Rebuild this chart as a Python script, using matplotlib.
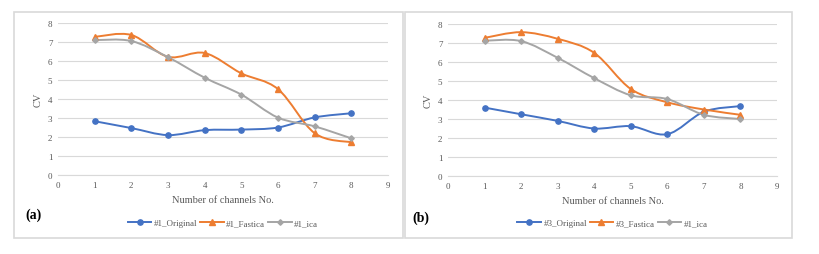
import numpy as np
import matplotlib
matplotlib.use('Agg')
import matplotlib.pyplot as plt
from matplotlib.path import Path
from matplotlib.patches import PathPatch, Rectangle

plt.rcParams['font.family'] = ['Liberation Serif', 'DejaVu Serif']

# Datos
canales = [1, 2, 3, 4, 5, 6, 7, 8]

a_original = [2.83, 2.47, 2.10, 2.36, 2.39, 2.50, 3.03, 3.25]
a_fastica = [7.27, 7.37, 6.22, 6.42, 5.35, 4.52, 2.20, 1.72]
a_ica = [7.10, 7.05, 6.20, 5.12, 4.23, 3.02, 2.56, 1.93]

b_original = [3.60, 3.25, 2.90, 2.50, 2.62, 2.20, 3.38, 3.68]
b_fastica = [7.27, 7.57, 7.22, 6.48, 4.58, 3.88, 3.50, 3.22]
b_ica = [7.12, 7.10, 6.22, 5.15, 4.25, 4.05, 3.22, 3.00]

colores = ['#4472C4', '#ED7D31', '#A5A5A5']
marcadores = ['o', '^', 'D']
tamanos = [3.8, 4.2, 2.8]


def curva_suave(ax, x, y, color):
    # linea suavizada estilo Excel (Bezier tipo Catmull-Rom)
    x = np.asarray(x, float)
    y = np.asarray(y, float)
    n = len(x)
    verts = [(x[0], y[0])]
    codes = [Path.MOVETO]
    t = 1 / 6
    for i in range(n - 1):
        x0, y0 = (x[i - 1], y[i - 1]) if i > 0 else (x[i], y[i])
        x3, y3 = (x[i + 2], y[i + 2]) if i + 2 < n else (x[i + 1], y[i + 1])
        c1 = (x[i] + (x[i + 1] - x0) * t, y[i] + (y[i + 1] - y0) * t)
        c2 = (x[i + 1] - (x3 - x[i]) * t, y[i + 1] - (y3 - y[i]) * t)
        verts += [c1, c2, (x[i + 1], y[i + 1])]
        codes += [Path.CURVE4] * 3
    ax.add_patch(PathPatch(Path(verts, codes), facecolor='none',
                           edgecolor=color, lw=1.4, zorder=3))


def panel(ax, series, nombres, ley_y):
    for s, nom, c, m, ms in zip(series, nombres, colores, marcadores, tamanos):
        curva_suave(ax, canales, s, c)
        ax.plot([], [], color=c, lw=1.4, marker=m, markersize=ms, label=nom)
        ax.plot(canales, s, linestyle='none', marker=m, markersize=ms,
                color=c, zorder=4)
    ax.set_xlim(0, 9)
    ax.set_ylim(0, 8)
    ax.set_xticks(range(0, 10))
    ax.set_yticks(range(0, 9))
    ax.tick_params(labelsize=6.5, colors='#595959', length=0, pad=4)
    ax.grid(axis='y', color='#D9D9D9', lw=0.8)
    ax.set_axisbelow(True)
    for lado in ['top', 'right', 'left']:
        ax.spines[lado].set_visible(False)
    ax.spines['bottom'].set_color('#D9D9D9')
    ax.set_xlabel('Number of channels No.', fontsize=7.5, color='#595959', labelpad=5)
    ax.set_ylabel('CV', fontsize=7.5, color='#595959', labelpad=4)
    ax.legend(loc='center', bbox_to_anchor=(0.5, ley_y), ncol=3,
              frameon=False, fontsize=6.5, labelcolor='#595959',
              handlelength=2.6, columnspacing=0.3, handletextpad=0.3)


fig = plt.figure(figsize=(8.2, 2.55), dpi=100)

# marcos de los paneles
fig.patches.append(Rectangle((14 / 820, 1 - 239 / 255), 389 / 820, 226 / 255,
                             transform=fig.transFigure, fill=False,
                             edgecolor='#D9D9D9', lw=1.2))
fig.patches.append(Rectangle((405 / 820, 1 - 239 / 255), 387 / 820, 226 / 255,
                             transform=fig.transFigure, fill=False,
                             edgecolor='#D9D9D9', lw=1.2))

ax1 = fig.add_axes([58 / 820, 1 - 176 / 255, 330 / 820, 152 / 255])
ax2 = fig.add_axes([448 / 820, 1 - 177 / 255, 329 / 820, 152 / 255])

panel(ax1, [a_original, a_fastica, a_ica],
      ['#1_Original', '#1_Fastica', '#1_ica'], -0.316)
panel(ax2, [b_original, b_fastica, b_ica],
      ['#3_Original', '#3_Fastica', '#1_ica'], -0.309)

fig.text(25 / 820, 1 - 215 / 255, '(a)', fontsize=10, fontweight='bold',
         va='center', ha='left')
fig.text(412 / 820, 1 - 218 / 255, '(b)', fontsize=10, fontweight='bold',
         va='center', ha='left')

plt.savefig('out.png', dpi=100)
